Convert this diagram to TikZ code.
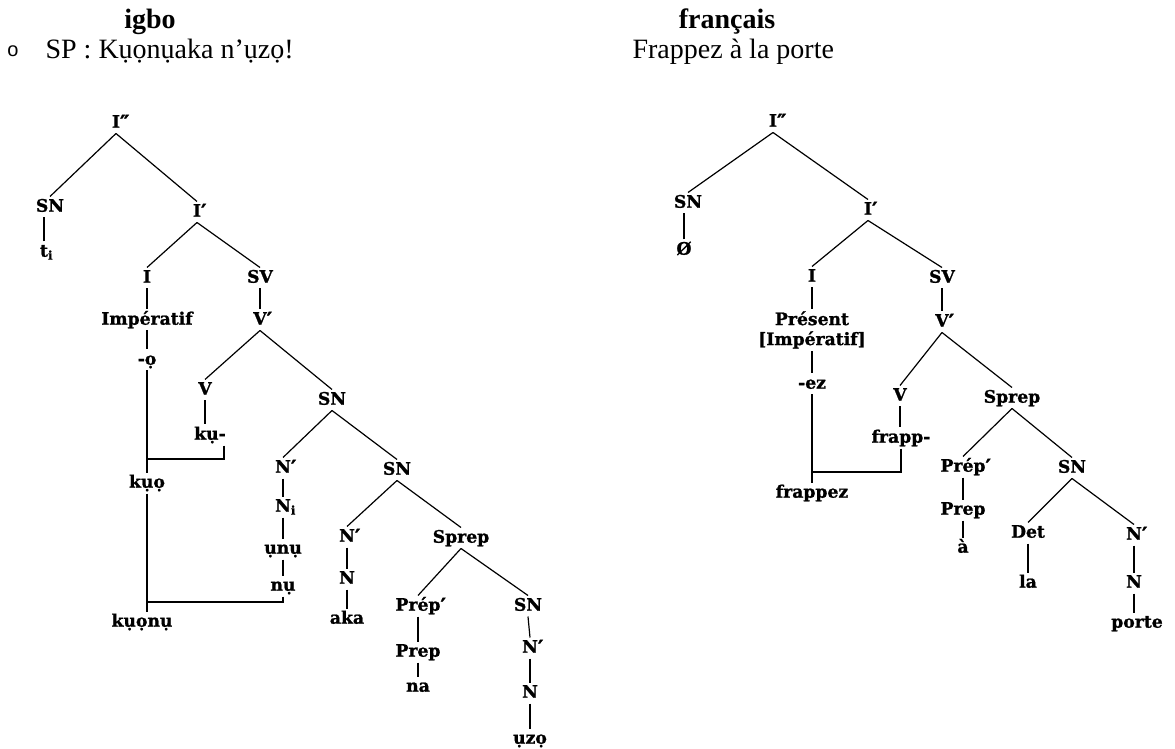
\documentclass[tikz,border=0pt]{standalone}
\usepackage{fontspec}
\setmainfont{Liberation Serif}
\newfontfamily\treefont[BoldFeatures={FakeBold=1.2}]{DejaVu Serif}
\newfontfamily\bulletfont{Liberation Sans}
\newcommand\pr[1]{\rlap{\raisebox{-1.2pt}{\fontsize{10.5}{10}\selectfont#1}}}
\usepackage{tikz}

\begin{document}
\begin{tikzpicture}[node distance=21pt, inner sep=1pt, text height=6.3pt, text depth=1.6pt, font=\treefont\bfseries\fontsize{8.6}{10}\selectfont, line width=0.6pt,
	head/.style={font=\fontsize{14}{16}\selectfont, inner sep=0pt, text height=, text depth=}]
	\useasboundingbox (0,0) rectangle (587.5pt,-374.5pt);
	
	\node[head, font=\bfseries\fontsize{14}{16}\selectfont, anchor=base](igbo) at (75pt,-14.5pt) {igbo};
	\node[head, font=\bulletfont\fontsize{10}{12}\selectfont, anchor=base](bullet) at (6.5pt,-28.5pt) {o};
	\node[head, anchor=base west](sp) at (22.5pt,-29.5pt) {SP : Kụọnụaka n’ụzọ!};
	\node[head, font=\bfseries\fontsize{14}{16}\selectfont, anchor=base](francais) at (363.5pt,-14.5pt) {français};
	\node[head, anchor=base west](phrase) at (316pt,-29.5pt) {Frappez à la porte};
	
	% igbo
	\node(ipp) at (58pt,-61.5pt) {I\pr{″}};
	\node[below of=ipp, xshift=-33pt, yshift=-21pt](sn1) {SN};
	\node[below of=sn1, xshift=-3pt, yshift=-1.5pt](ti) {t\rlap{\textsubscript{i}}};
	\node[below of=ipp, xshift=40.5pt, yshift=-23.5pt](ip) {I\pr{′}};
	\node[below of=ip, xshift=-25pt, yshift=-12pt](i1) {I};
	\node[below of=ip, xshift=31.5pt, yshift=-12pt](sv) {SV};
	\node[below of=i1](imp) {Impératif};
	\node[below of=imp, yshift=1pt](o) {-ọ};
	\node[below of=sv](vp) {V\pr{′}};
	\node[below of=vp, xshift=-27.5pt, yshift=-14pt](v) {V};
	\node[below of=v, xshift=2.5pt, yshift=-1.5pt](ku) {kụ-};
	\node[below of=vp, xshift=36pt, yshift=-19pt](sn2) {SN};
	\node[below of=sn2, xshift=-24.5pt, yshift=-13pt](np1) {N\pr{′}};
	\node[below of=np1, yshift=1.5pt](ni) {N\rlap{\textsubscript{i}}};
	\node[below of=ni](unu) {ụnụ};
	\node[below of=unu, yshift=2.5pt](nu) {nụ};
	\node[below of=sn2, xshift=32.5pt, yshift=-14pt](sn3) {SN};
	\node[below of=sn3, xshift=-25pt, yshift=-12.5pt](np2) {N\pr{′}};
	\node[below of=np2](n1) {N};
	\node[below of=n1, yshift=1pt](aka) {aka};
	\node[below of=sn3, xshift=32pt, yshift=-13pt](sprep) {Sprep};
	\node[below of=sprep, xshift=-21.5pt, yshift=-13pt](prepp) {Prép\pr{′}};
	\node[below of=prepp, yshift=-2pt](prep) {Prep};
	\node[below of=prep, yshift=3.5pt](na) {na};
	\node[below of=sprep, xshift=33.5pt, yshift=-13pt](sn4) {SN};
	\node[below of=sn4, xshift=1pt](np3) {N\pr{′}};
	\node[below of=np3, yshift=-1.5pt](n2) {N};
	\node[below of=n2, yshift=-2pt](uzo) {ụzọ};
	\node[below of=o, yshift=-40.5pt](kuo) {kụọ};
	\node[below of=kuo, xshift=-2.5pt, yshift=-48.5pt](kuonu) {kụọnụ};
	\coordinate[below of=o, yshift=-28.5pt](j1);
	\coordinate[below of=kuo, yshift=-38.5pt](j2);
	
	\draw (ipp.south) -- (sn1.north);
	\draw (ipp.south) -- (ip.north);
	\draw (ti.north) -- (ti.north |- sn1.south);
	\draw (ip.south) -- (i1.north);
	\draw (ip.south) -- (sv.north);
	\draw (i1.south) -- (imp.north);
	\draw (imp.south) -- (o.north);
	\draw (sv.south) -- (vp.north);
	\draw (vp.south) -- (v.north);
	\draw (vp.south) -- (sn2.north);
	\draw (v.south) -- (v.south |- ku.north);
	\draw (sn2.south) -- (np1.north);
	\draw (sn2.south) -- (sn3.north);
	\draw (np1.south) -- (ni.north);
	\draw (ni.south) -- (unu.north);
	\draw (unu.south) -- (nu.north);
	\draw (sn3.south) -- (np2.north);
	\draw (sn3.south) -- (sprep.north);
	\draw (np2.south) -- (n1.north);
	\draw (n1.south) -- (aka.north);
	\draw (sprep.south) -- (prepp.north);
	\draw (sprep.south) -- (sn4.north);
	\draw (prepp.south) -- (prep.north);
	\draw (prep.south) -- (na.north);
	\draw (sn4.south) -- (np3.north);
	\draw (np3.south) -- (n2.north);
	\draw (n2.south) -- (uzo.north);
	\draw (o.south) -- (kuo.north);
	\draw ([xshift=7pt]ku.south) |- (j1);
	\draw (kuo.south) -- (kuo.south |- kuonu.north);
	\draw (nu.south) |- (j2);
	
	% francais
	\node(fipp) at (386.5pt,-61pt) {I\pr{″}};
	\node[below of=fipp, xshift=-42.5pt, yshift=-19.5pt](fsn1) {SN};
	\node[below of=fsn1, xshift=-2pt, yshift=-2.5pt](zero) {Ø};
	\node[below of=fipp, xshift=47.5pt, yshift=-23pt](fip) {I\pr{′}};
	\node[below of=fip, xshift=-28pt, yshift=-12.5pt](fi) {I};
	\node[below of=fip, xshift=37pt, yshift=-13pt](fsv) {SV};
	\node[below of=fi, yshift=-5.5pt, align=center, text height=, text depth=](pres) {Présent\\{}[Impératif]};
	\node[below of=pres, yshift=-6pt](ez) {-ez};
	\node[below of=fsv, yshift=-1pt](fvp) {V\pr{′}};
	\node[below of=fvp, xshift=-21pt, yshift=-16pt](fv) {V};
	\node[below of=fv, xshift=0.5pt](frapp) {frapp-};
	\node[below of=fvp, xshift=35pt, yshift=-17pt](fsprep) {Sprep};
	\node[below of=fsprep, xshift=-24.5pt, yshift=-13.5pt](fprepp) {Prép\pr{′}};
	\node[below of=fprepp, yshift=-0.5pt](fprep) {Prep};
	\node[below of=fprep, yshift=2pt](a) {à};
	\node[below of=fsprep, xshift=30pt, yshift=-14pt](fsn2) {SN};
	\node[below of=fsn2, xshift=-22pt, yshift=-11.5pt](det) {Det};
	\node[below of=det, yshift=-4pt](la) {la};
	\node[below of=fsn2, xshift=31pt, yshift=-12.5pt](fnp) {N\pr{′}};
	\node[below of=fnp, yshift=-3pt](fn) {N};
	\node[below of=fn, xshift=1.5pt, yshift=1pt](porte) {porte};
	\node[below of=ez, yshift=-33.5pt](frappez) {frappez};
	\coordinate[below of=ez, yshift=-23pt](j3);
	
	\draw (fipp.south) -- (fsn1.north);
	\draw (fipp.south) -- (fip.north);
	\draw (zero.north) -- (zero.north |- fsn1.south);
	\draw (fip.south) -- (fi.north);
	\draw (fip.south) -- (fsv.north);
	\draw (fi.south) -- (pres.north);
	\draw (pres.south) -- (ez.north);
	\draw (fsv.south) -- (fvp.north);
	\draw (fvp.south) -- (fv.north);
	\draw (fvp.south) -- (fsprep.north);
	\draw (fv.south) -- (fv.south |- frapp.north);
	\draw (fsprep.south) -- (fprepp.north);
	\draw (fsprep.south) -- (fsn2.north);
	\draw (fprepp.south) -- (fprep.north);
	\draw (fprep.south) -- (a.north);
	\draw (fsn2.south) -- (det.north);
	\draw (fsn2.south) -- (fnp.north);
	\draw (det.south) -- (la.north);
	\draw (fnp.south) -- (fn.north);
	\draw (fn.south) -- (fn.south |- porte.north);
	\draw (ez.south) -- (frappez.north);
	\draw (frapp.south) |- (j3);
\end{tikzpicture}
\end{document}
